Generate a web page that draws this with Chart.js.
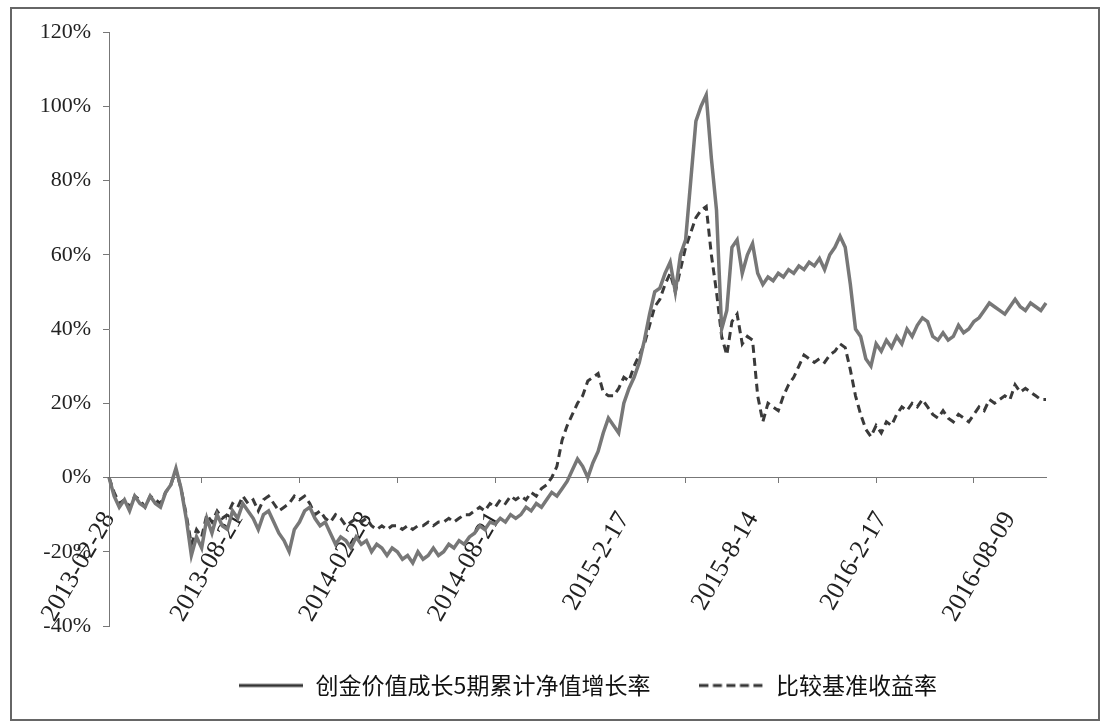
<!DOCTYPE html>
<html>
<head>
<meta charset="utf-8">
<script src="https://cdn.jsdelivr.net/npm/chart.js@4.4.1/dist/chart.umd.min.js"></script>
<style>
body{margin:0;background:#fff;}
#wrap{position:relative;width:1103px;height:726px;}
#frame{position:absolute;left:10px;top:7px;width:1090px;height:714px;border:2px solid #666;box-sizing:border-box;pointer-events:none;}
</style>
</head>
<body>
<div id="wrap">
<canvas id="navChart" width="1103" height="726"></canvas>
<div id="frame"></div>
</div>
<script>
// x labels shown every 25 points, small tick marks at their own spacing
let tickLabels = ["2013-02-28","2013-08-21","2014-02-28","2014-08-21","2015-2-17","2015-8-14","2016-2-17","2016-08-09"];
let labelStep = 25;
let tickMarks = [0,18,37,56,75,93,112,130,149,168];

// 创金价值成长5期累计净值增长率 (%)
let fund = [
0,-5,-8,-6,-9,-5,-7,-8,-5,-7,
-8,-4,-2,2.5,-3,-11,-21,-16,-19,-11,
-15,-10,-13,-14,-9,-11,-7,-9,-11,-14,
-10,-9,-12,-15,-17,-20,-14,-12,-9,-8,
-11,-13,-12,-15,-18,-16,-17,-19,-16,-18,
-17,-20,-18,-19,-21,-19,-20,-22,-21,-23,
-20,-22,-21,-19,-21,-20,-18,-19,-17,-18,
-16,-15,-13,-14,-12,-12.5,-11,-12,-10,-11,
-10,-8,-9,-7,-8,-6,-4,-5,-3,-1,
2,5,3,0,4,7,12,16,14,12,
20,24,27,31,37,44,50,51,55,58,
50,60,64,80,96,100,103,86,72,40,
45,62,64,55,60,63,55,52,54,53,
55,54,56,55,57,56,58,57,59,56,
60,62,65,62,52,40,38,32,30,36,
34,37,35,38,36,40,38,41,43,42,
38,37,39,37,38,41,39,40,42,43,
45,47,46,45,44,46,48,46,45,47,
46,45,47
];

// 比较基准收益率 (%)
let bench = [
0,-4,-7,-6,-8,-5,-6,-8,-5,-6,
-7,-4,-2,2,-3,-10,-18,-14,-16,-10,
-12,-9,-11,-10,-7,-8,-5,-7,-6,-9,
-6,-5,-7,-9,-8,-7,-5,-6,-5,-7,
-10,-9,-11,-12,-10,-11,-13,-12,-11,-12,
-11,-13,-14,-13,-14,-13,-13,-14,-13,-14,
-13,-13,-12,-13,-12,-12,-11,-12,-11,-10,
-10,-9,-8,-9,-7,-8,-6,-7,-5,-6,
-5,-6,-4,-5,-3,-2,0,3,10,14,
17,20,22,26,27,28,23,22,22,24,
27,26,30,33,36,41,46,48,52,55,
50,56,62,66,70,72,73,60,50,38,
33,42,44,36,38,37,22,15,20,19,
18,22,25,27,30,33,32,31,32,31,
33,34,36,35,29,22,17,13,11,14,
12,15,14,17,19,18,20,19,21,19,
17,16,18,16,15,17,16,15,17,19,
18,21,20,21,22,21,25,23,24,23,
22,21,21
];

let categories = fund.map((v,i)=> i%labelStep==0 ? tickLabels[i/labelStep] : "");

// little line pictures for the legend (the legend point style ignores borderDash)
function legendLine(dash){
let c=document.createElement("canvas");
c.width=64;
c.height=6;
let g=c.getContext("2d");
g.strokeStyle="#333";
g.lineWidth=3;
g.setLineDash(dash);
g.beginPath();
g.moveTo(0,3);
g.lineTo(64,3);
g.stroke();
return c;
}

let ctx = document.getElementById("navChart");

let chart = new Chart(ctx,{
type:'line',
data:{
labels:categories,
datasets:[{
label:"创金价值成长5期累计净值增长率",
data:fund,
borderColor:"#777777",
borderWidth:3.5,
pointRadius:0,
pointStyle:legendLine([]),
tension:0,
fill:false
},{
label:"比较基准收益率",
data:bench,
borderColor:"#3a3a3a",
borderWidth:3,
borderDash:[8,5],
pointRadius:0,
pointStyle:legendLine([9,4.5]),
tension:0,
fill:false
}]
},
options:{
responsive:false,
animation:false,
layout:{padding:{left:0,right:57,top:32,bottom:19}},
scales:{
x:{
type:'category',
position:{y:0},
offset:false,
grid:{
drawOnChartArea:false,
tickLength:5,
tickColor:(c)=> tickMarks.includes(c.index) ? "#777" : "rgba(0,0,0,0)"
},
border:{display:true,color:"#777",width:1},
ticks:{
autoSkip:false,
minRotation:60,
maxRotation:60,
padding:24,
color:"#222",
font:{family:"Liberation Serif",size:26}
}
},
y:{
min:-40,
max:120,
afterFit:(s)=>{ s.width=109; },
grid:{drawOnChartArea:false,tickLength:6,color:"#777"},
border:{display:true,color:"#777",width:1},
ticks:{
stepSize:20,
padding:12,
color:"#222",
font:{family:"Liberation Serif",size:22},
callback:(v)=> v+"%"
}
}
},
plugins:{
tooltip:{enabled:false},
legend:{
position:'bottom',
fullSize:false,
labels:{
usePointStyle:true,
pointStyleWidth:66,
padding:48,
color:"#111",
font:{family:"Noto Sans CJK SC",size:23}
}
}
}
},
plugins:[{
// nudge the legend a little right, as in the original
id:'legendShift',
afterLayout(c){
c.legend.left+=10;
c.legend.right+=10;
}
}]
});
</script>
</body>
</html>
